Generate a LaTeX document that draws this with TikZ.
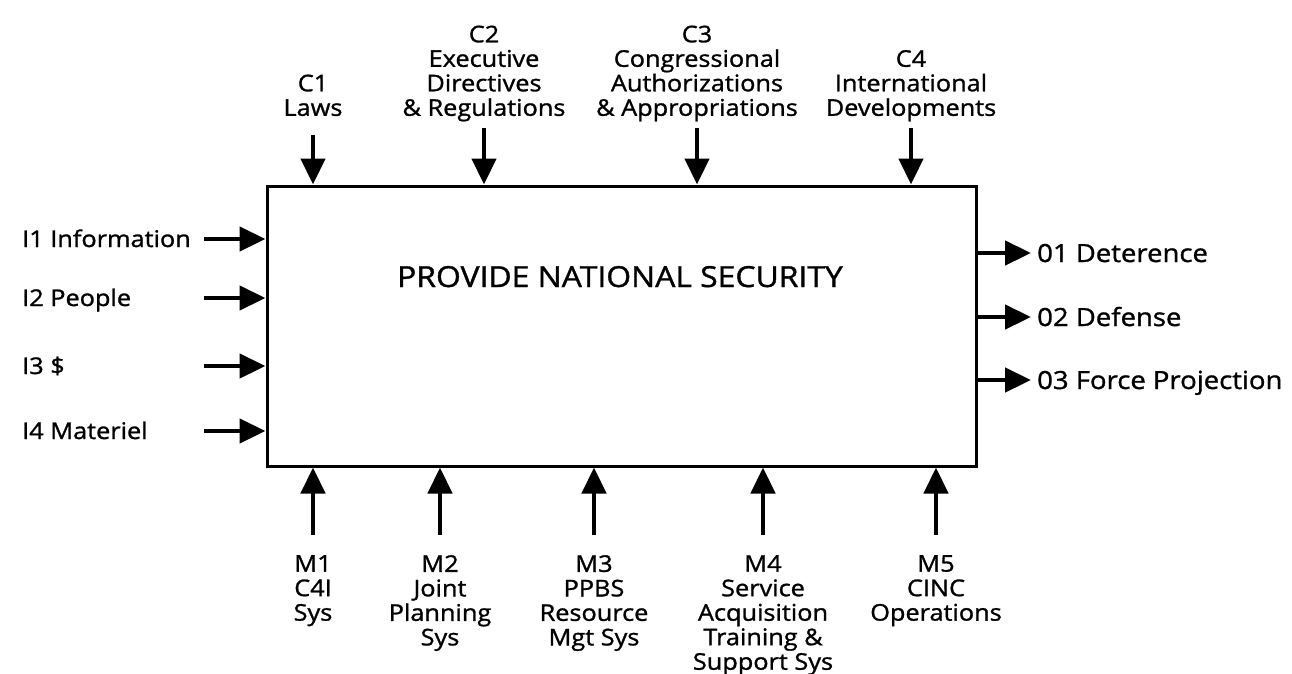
\documentclass[tikz,border=0pt]{standalone}
\usepackage{fontspec}
\setmainfont{Open Sans}[FakeStretch=1.1,FakeBold=1.2]
\usetikzlibrary{arrows.meta}
\begin{document}
\begin{tikzpicture}[x=1pt,y=-1pt,
  arr/.style={line width=4.5pt,-{Triangle[length=26pt,width=24pt]}},
  lbl/.style={font=\fontsize{23}{24.5}\selectfont,inner sep=0pt,align=center},
  sidelbl/.style={font=\fontsize{23}{24.5}\selectfont,inner sep=0pt,anchor=base west},
  outlbl/.style={sidelbl,font=\fontsize{25}{26}\selectfont},
  toplbl/.style={lbl,anchor=south,text depth=0pt},
  botlbl/.style={lbl,anchor=north}]
\useasboundingbox (0,0) rectangle (1292,673);
\node[draw,line width=3pt,minimum width=709pt,minimum height=280pt,inner sep=0pt] (box) at (621.5,326) {};
\node[font=\fontsize{29}{32}\selectfont,inner sep=0pt,anchor=base] (title) at (620,287) {PROVIDE NATIONAL SECURITY};
% controls
\node[toplbl] (c1) at (313,116) {C1\\Laws};
\node[toplbl] (c2) at (484,116) {C2\\Executive\\Directives\\\& Regulations};
\node[toplbl] (c3) at (697,116) {C3\\Congressional\\Authorizations\\\& Appropriations};
\node[toplbl] (c4) at (911,116) {C4\\International\\Developments};
\coordinate (c1s) at (313,135);
\coordinate (c2s) at (484,128);
\coordinate (c3s) at (697,128);
\coordinate (c4s) at (911,128);
\foreach \c in {c1s,c2s,c3s,c4s} \draw[arr] (\c) -- (\c |- box.north);
% inputs
\node[sidelbl] (i1) at (22,247) {I1 Information};
\node[sidelbl] (i2) at (22,306) {I2 People};
\node[sidelbl] (i3) at (22,374) {I3 \$};
\node[sidelbl] (i4) at (22,439) {I4 Materiel};
\coordinate (i1s) at (204,239);
\coordinate (i2s) at (204,298);
\coordinate (i3s) at (204,366);
\coordinate (i4s) at (204,431);
\foreach \c in {i1s,i2s,i3s,i4s} \draw[arr] (\c) -- (\c -| box.west);
% outputs
\node[outlbl] (o1) at (1037,262) {01 Deterence};
\node[outlbl] (o2) at (1037,326) {02 Defense};
\node[outlbl] (o3) at (1037,389) {03 Force Projection};
\coordinate (o1e) at (1031,253);
\coordinate (o2e) at (1031,317);
\coordinate (o3e) at (1031,380);
\foreach \c in {o1e,o2e,o3e} \draw[arr] (\c -| box.east) -- (\c);
% mechanisms
\node[botlbl] (m1) at (313,555) {M1\\C4I\\Sys};
\node[botlbl] (m2) at (440,555) {M2\\Joint\\Planning\\Sys};
\node[botlbl] (m3) at (594,555) {M3\\PPBS\\Resource\\Mgt Sys};
\node[botlbl] (m4) at (763,555) {M4\\Service\\Acquisition\\Training \&\\Support Sys};
\node[botlbl] (m5) at (936,555) {M5\\CINC\\Operations};
\coordinate (m1s) at (313,535);
\coordinate (m2s) at (440,535);
\coordinate (m3s) at (594,535);
\coordinate (m4s) at (763,535);
\coordinate (m5s) at (936,535);
\foreach \c in {m1s,m2s,m3s,m4s,m5s} \draw[arr] (\c) -- (\c |- box.south);
\end{tikzpicture}
\end{document}
